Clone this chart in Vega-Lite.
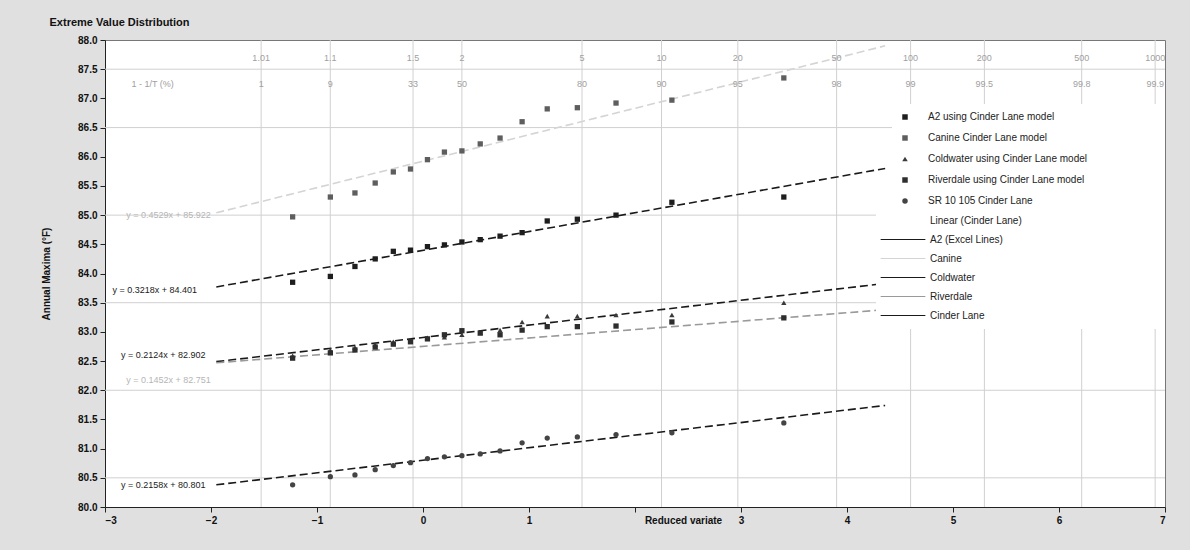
{
  "$schema": "https://vega.github.io/schema/vega-lite/v6.json",
  "width": 1060,
  "height": 467,
  "autosize": {"type": "none"},
  "padding": {"left": 105, "top": 40, "right": 25, "bottom": 43},
  "background": "#e0e0e0",
  "config": {
    "font": "Liberation Sans",
    "view": {"fill": "white", "stroke": "#777777"},
    "axis": {"labelColor": "#111111", "titleColor": "#111111", "domainColor": "#222222", "tickColor": "#222222"}
  },
  "title": {"text": "Extreme Value Distribution", "anchor": "start", "fontSize": 11, "fontWeight": "bold", "offset": 7, "dx": 8, "color": "#111111"},
  "datasets": {
    "rp": [
      {"x": -1.527, "T": "1.01", "P": "1"},
      {"x": -0.875, "T": "1.1", "P": "9"},
      {"x": -0.094, "T": "1.5", "P": "33"},
      {"x": 0.367, "T": "2", "P": "50"},
      {"x": 1.5, "T": "5", "P": "80"},
      {"x": 2.25, "T": "10", "P": "90"},
      {"x": 2.97, "T": "20", "P": "95"},
      {"x": 3.902, "T": "50", "P": "98"},
      {"x": 4.6, "T": "100", "P": "99"},
      {"x": 5.296, "T": "200", "P": "99.5"},
      {"x": 6.214, "T": "500", "P": "99.8"},
      {"x": 6.907, "T": "1000", "P": "99.9"}
    ],
    "rowlab": [{"x": -2.75, "P": "1 - 1/T (%)"}],
    "hg": [{"y": 80.5}, {"y": 82}, {"y": 83.5}, {"y": 85}, {"y": 86.5}, {"y": 87.5}],
    "trend": [
      {"trend": "A2 (Excel Lines)", "x": -1.95, "y": 83.77},
      {"trend": "A2 (Excel Lines)", "x": 4.36, "y": 85.80},
      {"trend": "Canine", "x": -1.95, "y": 85.04},
      {"trend": "Canine", "x": 4.36, "y": 87.90},
      {"trend": "Coldwater", "x": -1.95, "y": 82.49},
      {"trend": "Coldwater", "x": 4.36, "y": 83.83},
      {"trend": "Riverdale", "x": -1.95, "y": 82.47},
      {"trend": "Riverdale", "x": 4.36, "y": 83.38},
      {"trend": "Cinder Lane", "x": -1.95, "y": 80.38},
      {"trend": "Cinder Lane", "x": 4.36, "y": 81.74}
    ],
    "eq": [
      {"x": -2.93, "y": 83.72, "label": "y = 0.3218x + 84.401", "tone": "dark"},
      {"x": -2.85, "y": 82.6, "label": "y = 0.2124x + 82.902", "tone": "dark"},
      {"x": -2.85, "y": 80.38, "label": "y = 0.2158x + 80.801", "tone": "dark"},
      {"x": -2.8, "y": 85.0, "label": "y = 0.4529x + 85.922", "tone": "light"},
      {"x": -2.8, "y": 82.18, "label": "y = 0.1452x + 82.751", "tone": "light"}
    ],
    "obs": [
      {"series": "A2 using Cinder Lane model", "x": -1.23, "y": 83.85},
      {"series": "A2 using Cinder Lane model", "x": -0.874, "y": 83.95},
      {"series": "A2 using Cinder Lane model", "x": -0.642, "y": 84.12},
      {"series": "A2 using Cinder Lane model", "x": -0.451, "y": 84.25},
      {"series": "A2 using Cinder Lane model", "x": -0.28, "y": 84.38},
      {"series": "A2 using Cinder Lane model", "x": -0.118, "y": 84.4},
      {"series": "A2 using Cinder Lane model", "x": 0.042, "y": 84.46},
      {"series": "A2 using Cinder Lane model", "x": 0.202, "y": 84.49},
      {"series": "A2 using Cinder Lane model", "x": 0.367, "y": 84.54},
      {"series": "A2 using Cinder Lane model", "x": 0.54, "y": 84.58},
      {"series": "A2 using Cinder Lane model", "x": 0.727, "y": 84.64},
      {"series": "A2 using Cinder Lane model", "x": 0.935, "y": 84.7},
      {"series": "A2 using Cinder Lane model", "x": 1.172, "y": 84.9},
      {"series": "A2 using Cinder Lane model", "x": 1.456, "y": 84.93},
      {"series": "A2 using Cinder Lane model", "x": 1.821, "y": 85.0},
      {"series": "A2 using Cinder Lane model", "x": 2.348, "y": 85.22},
      {"series": "A2 using Cinder Lane model", "x": 3.404, "y": 85.31},
      {"series": "Canine Cinder Lane model", "x": -1.23, "y": 84.97},
      {"series": "Canine Cinder Lane model", "x": -0.874, "y": 85.31},
      {"series": "Canine Cinder Lane model", "x": -0.642, "y": 85.38},
      {"series": "Canine Cinder Lane model", "x": -0.451, "y": 85.55},
      {"series": "Canine Cinder Lane model", "x": -0.28, "y": 85.74},
      {"series": "Canine Cinder Lane model", "x": -0.118, "y": 85.79},
      {"series": "Canine Cinder Lane model", "x": 0.042, "y": 85.95},
      {"series": "Canine Cinder Lane model", "x": 0.202, "y": 86.08},
      {"series": "Canine Cinder Lane model", "x": 0.367, "y": 86.1},
      {"series": "Canine Cinder Lane model", "x": 0.54, "y": 86.22},
      {"series": "Canine Cinder Lane model", "x": 0.727, "y": 86.32},
      {"series": "Canine Cinder Lane model", "x": 0.935, "y": 86.6},
      {"series": "Canine Cinder Lane model", "x": 1.172, "y": 86.82},
      {"series": "Canine Cinder Lane model", "x": 1.456, "y": 86.84},
      {"series": "Canine Cinder Lane model", "x": 1.821, "y": 86.92},
      {"series": "Canine Cinder Lane model", "x": 2.348, "y": 86.97},
      {"series": "Canine Cinder Lane model", "x": 3.404, "y": 87.35},
      {"series": "Coldwater using Cinder Lane model", "x": -1.23, "y": 82.59},
      {"series": "Coldwater using Cinder Lane model", "x": -0.874, "y": 82.69},
      {"series": "Coldwater using Cinder Lane model", "x": -0.642, "y": 82.73},
      {"series": "Coldwater using Cinder Lane model", "x": -0.451, "y": 82.78},
      {"series": "Coldwater using Cinder Lane model", "x": -0.28, "y": 82.83},
      {"series": "Coldwater using Cinder Lane model", "x": -0.118, "y": 82.86},
      {"series": "Coldwater using Cinder Lane model", "x": 0.042, "y": 82.9},
      {"series": "Coldwater using Cinder Lane model", "x": 0.202, "y": 82.91},
      {"series": "Coldwater using Cinder Lane model", "x": 0.367, "y": 82.95},
      {"series": "Coldwater using Cinder Lane model", "x": 0.54, "y": 82.98},
      {"series": "Coldwater using Cinder Lane model", "x": 0.727, "y": 83.03},
      {"series": "Coldwater using Cinder Lane model", "x": 0.935, "y": 83.17},
      {"series": "Coldwater using Cinder Lane model", "x": 1.172, "y": 83.27},
      {"series": "Coldwater using Cinder Lane model", "x": 1.456, "y": 83.27},
      {"series": "Coldwater using Cinder Lane model", "x": 1.821, "y": 83.29},
      {"series": "Coldwater using Cinder Lane model", "x": 2.348, "y": 83.29},
      {"series": "Coldwater using Cinder Lane model", "x": 3.404, "y": 83.5},
      {"series": "Riverdale using Cinder Lane model", "x": -1.23, "y": 82.55},
      {"series": "Riverdale using Cinder Lane model", "x": -0.874, "y": 82.64},
      {"series": "Riverdale using Cinder Lane model", "x": -0.642, "y": 82.69},
      {"series": "Riverdale using Cinder Lane model", "x": -0.451, "y": 82.74},
      {"series": "Riverdale using Cinder Lane model", "x": -0.28, "y": 82.79},
      {"series": "Riverdale using Cinder Lane model", "x": -0.118, "y": 82.83},
      {"series": "Riverdale using Cinder Lane model", "x": 0.042, "y": 82.88},
      {"series": "Riverdale using Cinder Lane model", "x": 0.202, "y": 82.95},
      {"series": "Riverdale using Cinder Lane model", "x": 0.367, "y": 83.02},
      {"series": "Riverdale using Cinder Lane model", "x": 0.54, "y": 82.98},
      {"series": "Riverdale using Cinder Lane model", "x": 0.727, "y": 82.95},
      {"series": "Riverdale using Cinder Lane model", "x": 0.935, "y": 83.03},
      {"series": "Riverdale using Cinder Lane model", "x": 1.172, "y": 83.09},
      {"series": "Riverdale using Cinder Lane model", "x": 1.456, "y": 83.09},
      {"series": "Riverdale using Cinder Lane model", "x": 1.821, "y": 83.1},
      {"series": "Riverdale using Cinder Lane model", "x": 2.348, "y": 83.17},
      {"series": "Riverdale using Cinder Lane model", "x": 3.404, "y": 83.24},
      {"series": "SR 10 105 Cinder Lane", "x": -1.23, "y": 80.38},
      {"series": "SR 10 105 Cinder Lane", "x": -0.874, "y": 80.52},
      {"series": "SR 10 105 Cinder Lane", "x": -0.642, "y": 80.55},
      {"series": "SR 10 105 Cinder Lane", "x": -0.451, "y": 80.64},
      {"series": "SR 10 105 Cinder Lane", "x": -0.28, "y": 80.71},
      {"series": "SR 10 105 Cinder Lane", "x": -0.118, "y": 80.76},
      {"series": "SR 10 105 Cinder Lane", "x": 0.042, "y": 80.83},
      {"series": "SR 10 105 Cinder Lane", "x": 0.202, "y": 80.86},
      {"series": "SR 10 105 Cinder Lane", "x": 0.367, "y": 80.88},
      {"series": "SR 10 105 Cinder Lane", "x": 0.54, "y": 80.91},
      {"series": "SR 10 105 Cinder Lane", "x": 0.727, "y": 80.96},
      {"series": "SR 10 105 Cinder Lane", "x": 0.935, "y": 81.1},
      {"series": "SR 10 105 Cinder Lane", "x": 1.172, "y": 81.18},
      {"series": "SR 10 105 Cinder Lane", "x": 1.456, "y": 81.2},
      {"series": "SR 10 105 Cinder Lane", "x": 1.821, "y": 81.24},
      {"series": "SR 10 105 Cinder Lane", "x": 2.348, "y": 81.27},
      {"series": "SR 10 105 Cinder Lane", "x": 3.404, "y": 81.44}
    ]
  },
  "layer": [
    {
      "data": {"name": "rp"},
      "mark": {"type": "rule", "color": "#d0d0d0", "strokeWidth": 1},
      "encoding": {
        "x": {"field": "x", "type": "quantitative", "scale": {"domain": [-3, 7], "nice": false, "zero": false},
          "axis": {"values": [-3, -2, -1, 0, 1, 2, 3, 4, 5, 6, 7], "grid": false, "format": "d", "labelExpr": "datum.value == 2 ? '' : datum.label", "labelFontSize": 10, "labelFontWeight": "bold", "tickSize": 5, "labelPadding": 3, "title": "Reduced variate", "titleFontSize": 10, "titleFontWeight": "bold", "titleX": 578, "titleY": 8, "titleBaseline": "top", "titleAlign": "center"}}
      }
    },
    {
      "data": {"name": "hg"},
      "mark": {"type": "rule", "color": "#d0d0d0", "strokeWidth": 1},
      "encoding": {
        "y": {"field": "y", "type": "quantitative", "scale": {"domain": [80, 88], "nice": false, "zero": false},
          "axis": {"values": [80, 80.5, 81, 81.5, 82, 82.5, 83, 83.5, 84, 84.5, 85, 85.5, 86, 86.5, 87, 87.5, 88], "grid": false, "format": ".1f", "labelOverlap": false, "labelFontSize": 10, "labelFontWeight": "bold", "tickSize": 5, "labelPadding": 3, "title": "Annual Maxima (°F)", "titleFontSize": 10, "titleFontWeight": "bold", "titlePadding": 26}}
      }
    },
    {
      "data": {"name": "trend"},
      "mark": {"type": "line", "strokeDash": [8, 4], "strokeWidth": 1.6},
      "encoding": {
        "x": {"field": "x", "type": "quantitative", "axis": {"values": [-3, -2, -1, 0, 1, 2, 3, 4, 5, 6, 7], "grid": false, "format": "d", "labelExpr": "datum.value == 2 ? '' : datum.label", "labelFontSize": 10, "labelFontWeight": "bold", "tickSize": 5, "labelPadding": 3, "title": "Reduced variate", "titleFontSize": 10, "titleFontWeight": "bold", "titleX": 578, "titleY": 8, "titleBaseline": "top", "titleAlign": "center"}},
        "y": {"field": "y", "type": "quantitative", "axis": {"values": [80, 80.5, 81, 81.5, 82, 82.5, 83, 83.5, 84, 84.5, 85, 85.5, 86, 86.5, 87, 87.5, 88], "grid": false, "format": ".1f", "labelOverlap": false, "labelFontSize": 10, "labelFontWeight": "bold", "tickSize": 5, "labelPadding": 3, "title": "Annual Maxima (°F)", "titleFontSize": 10, "titleFontWeight": "bold", "titlePadding": 26}},
        "stroke": {
          "field": "trend", "type": "nominal",
          "scale": {"domain": ["Linear (Cinder Lane)", "A2 (Excel Lines)", "Canine", "Coldwater", "Riverdale", "Cinder Lane"], "range": ["#ffffff", "#1a1a1a", "#d4d4d4", "#1a1a1a", "#9a9a9a", "#1a1a1a"]},
          "legend": {"orient": "none", "legendX": 771, "legendY": 167, "title": null, "symbolType": "stroke", "symbolSize": 2000, "clipHeight": 19, "symbolStrokeWidth": 1.2, "symbolDash": [1, 0], "labelFontSize": 10, "labelColor": "#222222", "labelLimit": 400, "rowPadding": 0, "fillColor": "white", "padding": 4, "labelOffset": 4, "labelExpr": "datum.label + '\u00a0\u00a0\u00a0\u00a0\u00a0\u00a0\u00a0\u00a0\u00a0\u00a0\u00a0\u00a0\u00a0\u00a0\u00a0\u00a0\u00a0\u00a0\u00a0\u00a0\u00a0\u00a0\u00a0\u00a0\u00a0\u00a0\u00a0\u00a0\u00a0\u00a0\u00a0\u00a0\u00a0\u00a0\u00a0\u00a0\u00a0\u00a0\u00a0\u00a0\u00a0\u00a0\u00a0\u00a0\u00a0\u00a0\u00a0\u00a0\u00a0\u00a0\u200b'"}
        }
      }
    },
    {
      "data": {"name": "obs"},
      "mark": {"type": "point", "filled": true, "opacity": 1},
      "encoding": {
        "x": {"field": "x", "type": "quantitative", "axis": {"values": [-3, -2, -1, 0, 1, 2, 3, 4, 5, 6, 7], "grid": false, "format": "d", "labelExpr": "datum.value == 2 ? '' : datum.label", "labelFontSize": 10, "labelFontWeight": "bold", "tickSize": 5, "labelPadding": 3, "title": "Reduced variate", "titleFontSize": 10, "titleFontWeight": "bold", "titleX": 578, "titleY": 8, "titleBaseline": "top", "titleAlign": "center"}},
        "y": {"field": "y", "type": "quantitative", "axis": {"values": [80, 80.5, 81, 81.5, 82, 82.5, 83, 83.5, 84, 84.5, 85, 85.5, 86, 86.5, 87, 87.5, 88], "grid": false, "format": ".1f", "labelOverlap": false, "labelFontSize": 10, "labelFontWeight": "bold", "tickSize": 5, "labelPadding": 3, "title": "Annual Maxima (°F)", "titleFontSize": 10, "titleFontWeight": "bold", "titlePadding": 26}},
        "shape": {
          "field": "series", "type": "nominal",
          "scale": {"domain": ["A2 using Cinder Lane model", "Canine Cinder Lane model", "Coldwater using Cinder Lane model", "Riverdale using Cinder Lane model", "SR 10 105 Cinder Lane"], "range": ["square", "square", "triangle-up", "square", "circle"]},
          "legend": {"orient": "none", "legendX": 787, "legendY": 64, "title": null, "labelFontSize": 10, "labelColor": "#222222", "labelLimit": 400, "rowPadding": 9, "fillColor": "white", "padding": 8, "labelOffset": 18, "symbolSize": 30, "labelExpr": "datum.label + '\u00a0\u00a0\u00a0\u00a0\u00a0\u00a0\u00a0\u00a0\u00a0\u00a0\u00a0\u00a0\u00a0\u00a0\u00a0\u00a0\u00a0\u00a0\u00a0\u00a0\u00a0\u00a0\u00a0\u00a0\u00a0\u200b'"}
        },
        "fill": {
          "field": "series", "type": "nominal",
          "scale": {"domain": ["A2 using Cinder Lane model", "Canine Cinder Lane model", "Coldwater using Cinder Lane model", "Riverdale using Cinder Lane model", "SR 10 105 Cinder Lane"], "range": ["#1e1e1e", "#5e5e5e", "#3a3a3a", "#2e2e2e", "#444444"]},
          "legend": {"orient": "none", "legendX": 787, "legendY": 64, "title": null, "labelFontSize": 10, "labelColor": "#222222", "labelLimit": 400, "rowPadding": 9, "fillColor": "white", "padding": 8, "labelOffset": 18, "symbolSize": 30, "labelExpr": "datum.label + '\u00a0\u00a0\u00a0\u00a0\u00a0\u00a0\u00a0\u00a0\u00a0\u00a0\u00a0\u00a0\u00a0\u00a0\u00a0\u00a0\u00a0\u00a0\u00a0\u00a0\u00a0\u00a0\u00a0\u00a0\u00a0\u200b'"}
        },
        "size": {"value": 28}
      }
    },
    {
      "data": {"name": "eq"},
      "transform": [{"filter": "datum.tone === 'dark'"}],
      "mark": {"type": "text", "align": "left", "baseline": "middle", "fontSize": 9, "color": "#1a1a1a"},
      "encoding": {
        "x": {"field": "x", "type": "quantitative", "axis": {"values": [-3, -2, -1, 0, 1, 2, 3, 4, 5, 6, 7], "grid": false, "format": "d", "labelExpr": "datum.value == 2 ? '' : datum.label", "labelFontSize": 10, "labelFontWeight": "bold", "tickSize": 5, "labelPadding": 3, "title": "Reduced variate", "titleFontSize": 10, "titleFontWeight": "bold", "titleX": 578, "titleY": 8, "titleBaseline": "top", "titleAlign": "center"}},
        "y": {"field": "y", "type": "quantitative", "axis": {"values": [80, 80.5, 81, 81.5, 82, 82.5, 83, 83.5, 84, 84.5, 85, 85.5, 86, 86.5, 87, 87.5, 88], "grid": false, "format": ".1f", "labelOverlap": false, "labelFontSize": 10, "labelFontWeight": "bold", "tickSize": 5, "labelPadding": 3, "title": "Annual Maxima (°F)", "titleFontSize": 10, "titleFontWeight": "bold", "titlePadding": 26}},
        "text": {"field": "label"}
      }
    },
    {
      "data": {"name": "eq"},
      "transform": [{"filter": "datum.tone === 'light'"}],
      "mark": {"type": "text", "align": "left", "baseline": "middle", "fontSize": 9, "color": "#b5b5b5"},
      "encoding": {
        "x": {"field": "x", "type": "quantitative", "axis": {"values": [-3, -2, -1, 0, 1, 2, 3, 4, 5, 6, 7], "grid": false, "format": "d", "labelExpr": "datum.value == 2 ? '' : datum.label", "labelFontSize": 10, "labelFontWeight": "bold", "tickSize": 5, "labelPadding": 3, "title": "Reduced variate", "titleFontSize": 10, "titleFontWeight": "bold", "titleX": 578, "titleY": 8, "titleBaseline": "top", "titleAlign": "center"}},
        "y": {"field": "y", "type": "quantitative", "axis": {"values": [80, 80.5, 81, 81.5, 82, 82.5, 83, 83.5, 84, 84.5, 85, 85.5, 86, 86.5, 87, 87.5, 88], "grid": false, "format": ".1f", "labelOverlap": false, "labelFontSize": 10, "labelFontWeight": "bold", "tickSize": 5, "labelPadding": 3, "title": "Annual Maxima (°F)", "titleFontSize": 10, "titleFontWeight": "bold", "titlePadding": 26}},
        "text": {"field": "label"}
      }
    },
    {
      "data": {"name": "rp"},
      "mark": {"type": "text", "align": "center", "baseline": "middle", "fontSize": 9, "color": "#a0a0a0"},
      "encoding": {
        "x": {"field": "x", "type": "quantitative", "axis": {"values": [-3, -2, -1, 0, 1, 2, 3, 4, 5, 6, 7], "grid": false, "format": "d", "labelExpr": "datum.value == 2 ? '' : datum.label", "labelFontSize": 10, "labelFontWeight": "bold", "tickSize": 5, "labelPadding": 3, "title": "Reduced variate", "titleFontSize": 10, "titleFontWeight": "bold", "titleX": 578, "titleY": 8, "titleBaseline": "top", "titleAlign": "center"}},
        "y": {"datum": 87.7, "type": "quantitative", "axis": {"values": [80, 80.5, 81, 81.5, 82, 82.5, 83, 83.5, 84, 84.5, 85, 85.5, 86, 86.5, 87, 87.5, 88], "grid": false, "format": ".1f", "labelOverlap": false, "labelFontSize": 10, "labelFontWeight": "bold", "tickSize": 5, "labelPadding": 3, "title": "Annual Maxima (°F)", "titleFontSize": 10, "titleFontWeight": "bold", "titlePadding": 26}},
        "text": {"field": "T"}
      }
    },
    {
      "data": {"name": "rp"},
      "mark": {"type": "text", "align": "center", "baseline": "middle", "fontSize": 9, "color": "#a0a0a0"},
      "encoding": {
        "x": {"field": "x", "type": "quantitative", "axis": {"values": [-3, -2, -1, 0, 1, 2, 3, 4, 5, 6, 7], "grid": false, "format": "d", "labelExpr": "datum.value == 2 ? '' : datum.label", "labelFontSize": 10, "labelFontWeight": "bold", "tickSize": 5, "labelPadding": 3, "title": "Reduced variate", "titleFontSize": 10, "titleFontWeight": "bold", "titleX": 578, "titleY": 8, "titleBaseline": "top", "titleAlign": "center"}},
        "y": {"datum": 87.25, "type": "quantitative", "axis": {"values": [80, 80.5, 81, 81.5, 82, 82.5, 83, 83.5, 84, 84.5, 85, 85.5, 86, 86.5, 87, 87.5, 88], "grid": false, "format": ".1f", "labelOverlap": false, "labelFontSize": 10, "labelFontWeight": "bold", "tickSize": 5, "labelPadding": 3, "title": "Annual Maxima (°F)", "titleFontSize": 10, "titleFontWeight": "bold", "titlePadding": 26}},
        "text": {"field": "P"}
      }
    },
    {
      "data": {"name": "rowlab"},
      "mark": {"type": "text", "align": "left", "baseline": "middle", "fontSize": 9, "color": "#a0a0a0"},
      "encoding": {
        "x": {"field": "x", "type": "quantitative", "axis": {"values": [-3, -2, -1, 0, 1, 2, 3, 4, 5, 6, 7], "grid": false, "format": "d", "labelExpr": "datum.value == 2 ? '' : datum.label", "labelFontSize": 10, "labelFontWeight": "bold", "tickSize": 5, "labelPadding": 3, "title": "Reduced variate", "titleFontSize": 10, "titleFontWeight": "bold", "titleX": 578, "titleY": 8, "titleBaseline": "top", "titleAlign": "center"}},
        "y": {"datum": 87.25, "type": "quantitative", "axis": {"values": [80, 80.5, 81, 81.5, 82, 82.5, 83, 83.5, 84, 84.5, 85, 85.5, 86, 86.5, 87, 87.5, 88], "grid": false, "format": ".1f", "labelOverlap": false, "labelFontSize": 10, "labelFontWeight": "bold", "tickSize": 5, "labelPadding": 3, "title": "Annual Maxima (°F)", "titleFontSize": 10, "titleFontWeight": "bold", "titlePadding": 26}},
        "text": {"field": "P"}
      }
    }
  ]
}
